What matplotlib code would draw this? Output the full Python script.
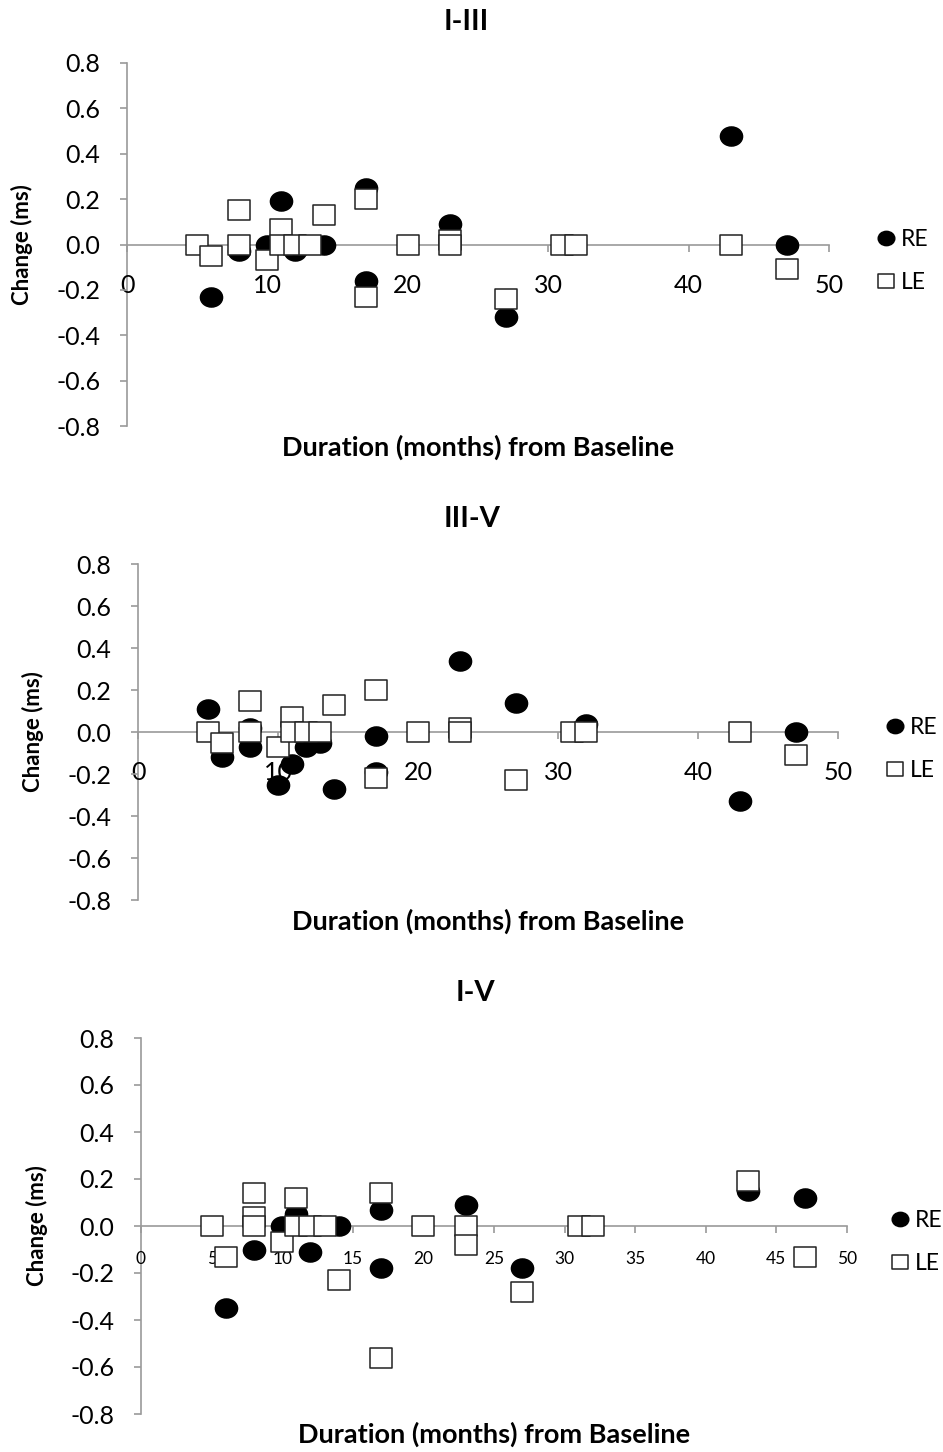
import numpy as np
import matplotlib
matplotlib.use("Agg")
import matplotlib.pyplot as plt
from matplotlib.path import Path

plt.rcParams['font.family'] = ['Lato', 'DejaVu Sans']

# --- data: change (ms) vs months from baseline, right eye (RE) / left eye (LE) ---
titles = ["I-III", "III-V", "I-V"]

re_x_1 = [6, 8, 10, 11, 12, 14, 17, 17, 23, 27, 43, 47]
re_y_1 = [-0.23, -0.03, 0.0, 0.19, -0.03, 0.0, 0.25, -0.16, 0.09, -0.32, 0.48, 0.0]
le_x_1 = [5, 6, 8, 8, 10, 11, 11, 12, 13, 14, 17, 17, 20, 23, 23, 27, 31, 32, 43, 47]
le_y_1 = [0.0, -0.05, 0.15, 0.0, -0.07, 0.07, 0.0, 0.0, 0.0, 0.13, 0.20, -0.23,
          0.0, 0.02, 0.0, -0.24, 0.0, 0.0, 0.0, -0.11]

re_x_2 = [5, 6, 8, 8, 10, 11, 12, 13, 14, 17, 17, 23, 27, 32, 43, 47]
re_y_2 = [0.11, -0.12, 0.02, -0.07, -0.25, -0.15, -0.07, -0.05, -0.27, -0.02,
          -0.19, 0.34, 0.14, 0.04, -0.33, 0.0]
le_x_2 = [5, 6, 8, 8, 10, 11, 11, 12, 13, 14, 17, 17, 20, 23, 23, 27, 31, 32, 43, 47]
le_y_2 = [0.0, -0.05, 0.15, 0.0, -0.07, 0.07, 0.0, 0.0, 0.0, 0.13, 0.20, -0.22,
          0.0, 0.02, 0.0, -0.23, 0.0, 0.0, 0.0, -0.11]

re_x_3 = [6, 8, 10, 11, 12, 14, 17, 17, 23, 27, 43, 47]
re_y_3 = [-0.35, -0.10, 0.0, 0.05, -0.11, 0.0, 0.07, -0.18, 0.09, -0.18, 0.15, 0.12]
le_x_3 = [5, 6, 8, 8, 8, 10, 11, 11, 12, 13, 14, 17, 17, 20, 23, 23, 27, 31, 32, 43, 47]
le_y_3 = [0.0, -0.13, 0.14, 0.04, 0.0, -0.07, 0.12, 0.0, 0.0, 0.0, -0.23, 0.14,
          -0.56, 0.0, 0.0, -0.08, -0.28, 0.0, 0.0, 0.19, -0.13]

y_ticks = [-0.8, -0.6, -0.4, -0.2, 0.0, 0.2, 0.4, 0.6, 0.8]
x_steps = [10, 10, 5]

# markers are a bit wider than tall
stretch = 1.16
circle = Path.unit_circle()
ellipse = Path(circle.vertices * [stretch, 1.0], circle.codes)
box = Path([(-stretch, -1), (stretch, -1), (stretch, 1), (-stretch, 1), (-stretch, -1)],
           [Path.MOVETO, Path.LINETO, Path.LINETO, Path.LINETO, Path.CLOSEPOLY])

W, H = 943, 1452
fig = plt.figure(figsize=(W / 100, H / 100), dpi=100)

# axes boxes in pixels: left spine x, right x, top y, bottom y
boxes = [(127, 829, 63, 426), (138, 838, 564, 900), (141, 847, 1038, 1414)]
title_pos = [(466, 22), (472, 519), (475, 993)]
xlab_y = [447, 921, 1434]
ylab_x = [22, 33, 37]
legend_pos = [(879, 261), (888, 749), (893, 1242)]
xtick_fs = [18, 18, 12.5]
xtick_pad = [16, 16, 13]

series = [(re_x_1, re_y_1, le_x_1, le_y_1),
          (re_x_2, re_y_2, le_x_2, le_y_2),
          (re_x_3, re_y_3, le_x_3, le_y_3)]

grey = "#9a9a9a"
for i, (rx, ry, lx, ly) in enumerate(series):
    l, r, t, b = boxes[i]
    ax = fig.add_axes([l / W, 1 - b / H, (r - l) / W, (b - t) / H])
    ax.set_xlim(0, 50)
    ax.set_ylim(-0.8, 0.8)
    ax.patch.set_alpha(0)

    re, = ax.plot(rx, ry, linestyle='none', marker=ellipse, markersize=16,
                  color='black', label='RE', zorder=3, clip_on=False)
    le, = ax.plot(lx, ly, linestyle='none', marker=box, markersize=16,
                  markerfacecolor='white', markeredgecolor='#222222',
                  markeredgewidth=1.1, label='LE', zorder=4, clip_on=False)

    for s in ['top', 'right']:
        ax.spines[s].set_visible(False)
    ax.spines['bottom'].set_position(('data', 0))
    for s in ['left', 'bottom']:
        ax.spines[s].set_color(grey)
        ax.spines[s].set_linewidth(1.2)
        ax.spines[s].set_zorder(1)

    ax.set_yticks(y_ticks)
    ax.set_yticklabels([f"{v:.1f}" for v in y_ticks])
    ax.set_xticks(np.arange(0, 51, x_steps[i]))
    ax.tick_params(axis='y', direction='out', length=5, width=1.2, color=grey,
                   labelsize=18, pad=14)
    ax.tick_params(axis='x', direction='out', length=5, width=1.2, color=grey,
                   labelsize=xtick_fs[i], pad=xtick_pad[i])

    tx, ty = title_pos[i]
    fig.text(tx / W, 1 - ty / H, titles[i], ha='center', va='center',
             fontsize=21, fontweight='bold')
    fig.text((l + r) / 2 / W, 1 - xlab_y[i] / H, "Duration (months) from Baseline",
             ha='center', va='center', fontsize=19.5, fontweight='bold')
    fig.text(ylab_x[i] / W, 1 - ((t + b) / 2) / H, "Change (ms)", rotation=90,
             ha='center', va='center', fontsize=16, fontweight='bold')

    lgx, lgy = legend_pos[i]
    ax.legend(handles=[re, le], loc='center left', bbox_to_anchor=(lgx / W, 1 - lgy / H),
              bbox_transform=fig.transFigure, frameon=False, fontsize=16.5,
              markerscale=0.75, handlelength=0.6, handletextpad=0.35,
              labelspacing=0.95, borderpad=0, borderaxespad=0)

fig.savefig("out.png", dpi=100)
